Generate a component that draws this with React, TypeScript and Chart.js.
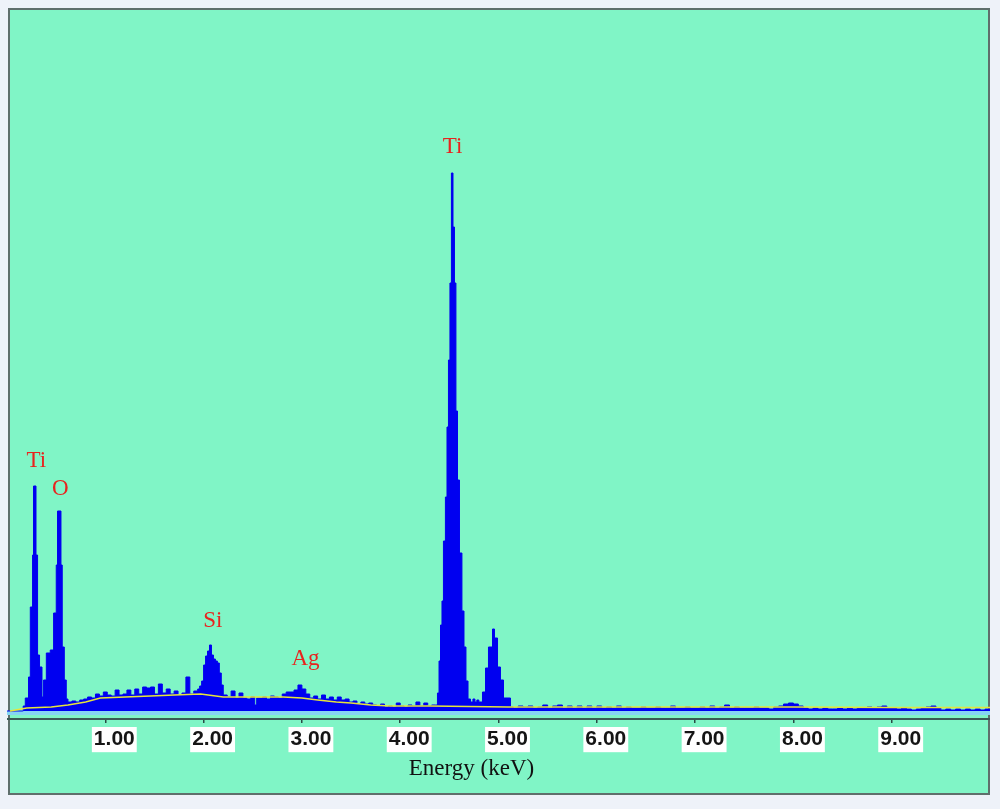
import React, { useEffect, useRef } from "react";
import { Chart, registerables } from "chart.js";

Chart.register(...registerables);

// Spectrum: left edges of channels (keV) and heights (counts, arbitrary units)
const energyKeV = [
  0.0, 0.16, 0.165, 0.186, 0.219, 0.237, 0.26, 0.27, 0.295, 0.311, 0.331, 0.356, 0.372, 0.4, 0.44, 0.474,
  0.501, 0.514, 0.549, 0.562, 0.583, 0.603,
  0.62, 0.66, 0.7, 0.74, 0.78, 0.82, 0.86, 0.9, 0.94, 0.98, 1.02, 1.06, 1.1, 1.14, 1.18, 1.22, 1.26, 1.3,
  1.34, 1.38, 1.42, 1.46, 1.5, 1.54, 1.58, 1.62, 1.66, 1.7, 1.74, 1.78, 1.82, 1.86, 1.9, 1.94,
  1.96, 1.98, 2.0, 2.02, 2.04, 2.06, 2.08, 2.1, 2.12, 2.14, 2.16, 2.18, 2.2,
  2.24, 2.28, 2.32, 2.36, 2.4, 2.44, 2.48, 2.52, 2.54, 2.6, 2.64, 2.68, 2.72, 2.76, 2.8, 2.84, 2.88, 2.92,
  2.96, 3.0, 3.04, 3.08, 3.12, 3.16, 3.2, 3.24, 3.28, 3.32, 3.36, 3.4, 3.44, 3.48, 3.52, 3.56, 3.6, 3.64,
  3.68, 3.72, 3.76, 3.8, 3.84, 3.88, 3.92, 3.96, 4.0, 4.04, 4.08, 4.12, 4.16, 4.2, 4.24, 4.28, 4.32,
  4.359, 4.379, 4.395, 4.41, 4.425, 4.44, 4.46, 4.476, 4.491, 4.506, 4.521, 4.537, 4.552, 4.567, 4.583,
  4.603, 4.628, 4.649, 4.669, 4.69, 4.715, 4.74, 4.76, 4.78, 4.8,
  4.837, 4.868, 4.898, 4.939, 4.959, 4.99, 5.02, 5.051, 5.122,
  5.15, 5.2, 5.25, 5.3, 5.35, 5.4, 5.45, 5.5, 5.55, 5.6, 5.65, 5.7, 5.75, 5.8, 5.85, 5.9, 5.95, 6.0,
  6.05, 6.1, 6.15, 6.2, 6.25, 6.3, 6.35, 6.4, 6.45, 6.5, 6.55, 6.6, 6.65, 6.7, 6.75, 6.8, 6.85, 6.9, 6.95,
  7.0, 7.05, 7.1, 7.15, 7.2, 7.25, 7.3, 7.35, 7.4, 7.45, 7.5, 7.55, 7.6, 7.65, 7.7, 7.75, 7.8, 7.85, 7.9,
  7.95, 8.0, 8.05, 8.1, 8.15, 8.2, 8.25, 8.3, 8.35, 8.4, 8.45, 8.5, 8.55, 8.6, 8.65, 8.7, 8.75, 8.8, 8.85,
  8.9, 8.95, 9.0, 9.05, 9.1, 9.15, 9.2, 9.25, 9.3, 9.35, 9.4, 9.45, 9.5, 9.55, 9.6, 9.65, 9.7, 9.75, 9.8,
  9.85, 9.9, 9.95, 10.0,
];

const counts = [
  0, 0, 5, 13, 34, 104, 156, 225, 156, 56, 44, 14, 31, 58, 61, 98,
  146, 200, 146, 64, 31, 12,
  9, 10, 9, 11, 12, 14, 13, 17, 15, 19, 16, 15, 21, 16, 17, 21, 16, 22,
  17, 24, 23, 24, 17, 27, 18, 22, 17, 20, 16, 18, 34, 17, 20, 22,
  25, 30, 46, 55, 60, 66, 56, 52, 50, 48, 38, 26, 16,
  14, 20, 13, 18, 13, 12, 14, 6, 13, 14, 12, 15, 14, 13, 17, 19, 19, 21,
  26, 22, 17, 13, 15, 12, 16, 12, 14, 11, 14, 11, 12, 9, 10, 7, 9, 7,
  8, 6, 5, 7, 4, 5, 4, 8, 5, 4, 6, 5, 9, 5, 8, 5, 6,
  6, 18, 50, 86, 110, 170, 214, 284, 351, 428, 538, 484, 428, 300, 231,
  158, 100, 64, 30, 12, 9, 12, 9, 11, 9,
  19, 43, 64, 82, 73, 44, 31, 13, 4,
  3, 5, 4, 5, 3, 4, 6, 3, 5, 6, 3, 5, 3, 5, 3, 5, 3, 5,
  3, 4, 3, 5, 3, 4, 3, 3, 4, 3, 3, 4, 3, 3, 5, 3, 3, 4, 3,
  3, 4, 3, 5, 3, 4, 6, 3, 4, 3, 3, 3, 4, 3, 3, 2, 4, 5, 7,
  8, 7, 5, 3, 2, 3, 2, 3, 2, 2, 3, 2, 3, 2, 3, 3, 4, 3, 4,
  5, 3, 3, 2, 3, 2, 1, 2, 3, 4, 5, 3, 1, 2, 1, 2, 1, 2, 1,
  2, 1, 2, 2,
];

// Fitted background (yellow line)
const bgEnergyKeV = [0.03, 0.2, 0.45, 0.62, 0.8, 0.95, 1.2, 1.46, 1.7, 1.97, 2.2, 2.5, 2.81, 3.0, 3.16, 3.35, 3.5, 3.7, 3.9, 4.3, 5.1, 6.0, 7.0, 8.0, 9.0, 10.0];
const bgCounts = [0, 3, 4, 6, 9, 13, 14, 15, 16, 17, 14, 14, 14, 13, 11, 9, 8, 6, 5, 5, 4, 4, 4, 4, 3.5, 3.5];

const tickValues = [1, 2, 3, 4, 5, 6, 7, 8, 9];

const peakLabels = ["Ti", "O", "Ti", "Si", "Ag"];
const peakLabelEnergy = [0.298, 0.542, 4.532, 2.094, 3.036];
const peakLabelCounts = [244, 216, 558, 84, 46];

const axisTitle = "Energy (keV)";

const overlayPlugin = {
  id: "overlay",
  beforeDatasetsDraw(chart: any) {
    const { ctx, chartArea, scales } = chart;
    const y0 = scales.y.getPixelForValue(0);
    const y1 = scales.y.getPixelForValue(-4);
    ctx.save();
    ctx.fillStyle = "#86d6f2";
    ctx.fillRect(chartArea.left, y0, chartArea.right - chartArea.left, y1 - y0);
    ctx.restore();
  },
  afterDraw(chart: any) {
    const { ctx, chartArea, scales } = chart;
    ctx.save();
    ctx.font = "23px 'Liberation Serif', 'Times New Roman', serif";
    ctx.fillStyle = "#e8231e";
    ctx.textAlign = "center";
    ctx.textBaseline = "alphabetic";
    peakLabels.forEach((t, i) => {
      ctx.fillText(t, scales.x.getPixelForValue(peakLabelEnergy[i]), scales.y.getPixelForValue(peakLabelCounts[i]));
    });
    ctx.fillStyle = "#111";
    ctx.font = "23px 'Liberation Serif', 'Times New Roman', serif";
    ctx.fillText(axisTitle, chartArea.left + 464.5, chartArea.bottom + 56);
    ctx.restore();
  },
};

export default function App() {
  const ref = useRef<HTMLCanvasElement | null>(null);

  useEffect(() => {
    if (!ref.current) return;
    const spectrum = energyKeV.map((e, i) => ({ x: e, y: counts[i] }));
    const background = bgEnergyKeV.map((e, i) => ({ x: e, y: bgCounts[i] }));
    const chart = new Chart(ref.current, {
      type: "line",
      data: {
        datasets: [
          {
            label: "background",
            data: background,
            borderColor: "#e6e43a",
            borderWidth: 1.5,
            pointRadius: 0,
            fill: false,
            order: 0,
          },
          {
            label: "spectrum",
            data: spectrum,
            borderColor: "#0000f0",
            backgroundColor: "#0000f0",
            borderWidth: 1,
            pointRadius: 0,
            stepped: true,
            fill: "origin",
            order: 1,
          },
        ],
      },
      options: {
        responsive: false,
        animation: false,
        layout: { padding: 0 },
        plugins: { legend: { display: false }, tooltip: { enabled: false } },
        scales: {
          x: {
            type: "linear",
            min: 0,
            max: 10,
            afterBuildTicks: (scale: any) => {
              scale.ticks = tickValues.map((v) => ({ value: v }));
            },
            afterFit: (scale: any) => {
              scale.height = 75;
            },
            grid: {
              drawOnChartArea: false,
              drawTicks: true,
              tickLength: 4,
              color: "#2a4a45",
              lineWidth: 1.5,
            },
            border: { display: true, color: "#3a5a55", width: 2 },
            ticks: {
              callback: (v: any) => Number(v).toFixed(2),
              autoSkip: false,
              maxRotation: 0,
              padding: 4,
              labelOffset: 9,
              showLabelBackdrop: true,
              backdropColor: "#ffffff",
              backdropPadding: { left: 2, right: 2, top: 0, bottom: 0 },
              color: "#151515",
              font: { family: "'Liberation Sans', Arial, sans-serif", size: 21, weight: "bold" },
            },
          },
          y: {
            type: "linear",
            display: false,
            min: -8,
            max: 703,
          },
        },
      },
      plugins: [overlayPlugin],
    });
    return () => chart.destroy();
  }, []);

  return (
    <div style={{ position: "fixed", left: 0, top: 0, width: 1000, height: 809, background: "#eef2f9" }}>
      <div
        style={{
          position: "absolute",
          left: 8,
          top: 8,
          width: 982,
          height: 787,
          boxSizing: "border-box",
          border: "2px solid #5f6f6c",
          background: "#80f5c6",
        }}
      />
      <canvas ref={ref} width={983} height={786} style={{ position: "absolute", left: 7, top: 8 }} />
    </div>
  );
}
